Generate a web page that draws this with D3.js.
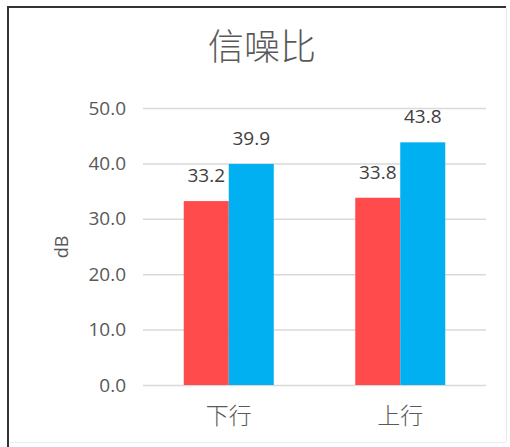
<!DOCTYPE html>
<html>
<head>
<meta charset="utf-8">
<script src="https://cdn.jsdelivr.net/npm/d3@7"></script>
<style>
  body { margin: 0; background: #fff; }
  svg { display: block; }
</style>
</head>
<body>
<svg id="chart"></svg>
<script>
const categories = ["下行", "上行"];
const seriesA = [33.2, 33.8];
const seriesB = [39.9, 43.8];
const yTicks = [0, 10, 20, 30, 40, 50];
const colors = ["#FF4B4B", "#00B0F0"];

const w = 510, h = 447;
const svg = d3.select("#chart").attr("width", w).attr("height", h);

svg.append("rect").attr("width", w).attr("height", h).attr("fill", "#fff");

// frame
svg.append("line").attr("x1", 7).attr("x2", 506).attr("y1", 7).attr("y2", 7)
  .attr("stroke", "#333").attr("stroke-width", 2);
svg.append("line").attr("x1", 8).attr("x2", 8).attr("y1", 6).attr("y2", h)
  .attr("stroke", "#333").attr("stroke-width", 2);
svg.append("line").attr("x1", 506.5).attr("x2", 506.5).attr("y1", 8).attr("y2", 442)
  .attr("stroke", "#ececec");
svg.append("line").attr("x1", 9).attr("x2", 506).attr("y1", 442.5).attr("y2", 442.5)
  .attr("stroke", "#ececec");

const x = d3.scaleBand().domain(categories).range([143, 486]);
const y = d3.scaleLinear().domain([0, 50]).range([385, 108]);
const barW = 45;

const numFont = "'Open Sans', 'Noto Sans', sans-serif";
const cjkFont = "'Noto Sans CJK SC', sans-serif";

// gridlines
svg.append("g").selectAll("line").data(yTicks).enter().append("line")
  .attr("x1", 143).attr("x2", 486)
  .attr("y1", d => y(d) + 0.5).attr("y2", d => y(d) + 0.5)
  .attr("stroke", "#d9d9d9").attr("stroke-width", 1.5);

// y tick labels
svg.append("g").selectAll("text").data(yTicks).enter().append("text")
  .text(d => d.toFixed(1))
  .attr("x", 126).attr("y", d => y(d))
  .attr("dy", "0.35em")
  .attr("text-anchor", "end")
  .attr("font-family", numFont)
  .attr("font-size", "19px")
  .attr("fill", "#595959");

// bars
const rows = categories.map((c, i) => ({ cat: c, vals: [seriesA[i], seriesB[i]] }));
const groups = svg.append("g").selectAll("g").data(rows).enter().append("g");

groups.selectAll("rect").data(d => d.vals.map((v, j) => ({ cat: d.cat, v, j }))).enter()
  .append("rect")
  .attr("x", d => x(d.cat) + x.bandwidth() / 2 - barW + d.j * barW)
  .attr("y", d => y(d.v))
  .attr("width", barW)
  .attr("height", d => y(0) - y(d.v))
  .attr("fill", d => colors[d.j]);

groups.selectAll("text").data(d => d.vals.map((v, j) => ({ cat: d.cat, v, j }))).enter()
  .append("text")
  .text(d => d.v.toFixed(1))
  .attr("x", d => x(d.cat) + x.bandwidth() / 2 - barW / 2 + d.j * barW)
  .attr("y", d => y(d.v) - 19)
  .attr("text-anchor", "middle")
  .attr("font-family", numFont)
  .attr("font-size", "19px")
  .attr("fill", "#404040");

// category labels
svg.append("g").selectAll("text").data(categories).enter().append("text")
  .text(d => d)
  .attr("x", d => x(d) + x.bandwidth() / 2)
  .attr("y", 416)
  .attr("dy", "0.35em")
  .attr("text-anchor", "middle")
  .attr("font-family", cjkFont)
  .attr("font-size", "23px")
  .attr("font-weight", 300)
  .attr("fill", "#595959");

// axis title
svg.append("text")
  .text("dB")
  .attr("transform", "translate(62,247) rotate(-90)")
  .attr("dy", "0.35em")
  .attr("text-anchor", "middle")
  .attr("font-family", numFont)
  .attr("font-size", "18px")
  .attr("fill", "#595959");

// title
svg.append("text")
  .text("信噪比")
  .attr("x", 262).attr("y", 47)
  .attr("dy", "0.35em")
  .attr("text-anchor", "middle")
  .attr("font-family", cjkFont)
  .attr("font-size", "36px")
  .attr("font-weight", 300)
  .attr("fill", "#595959");
</script>
</body>
</html>
